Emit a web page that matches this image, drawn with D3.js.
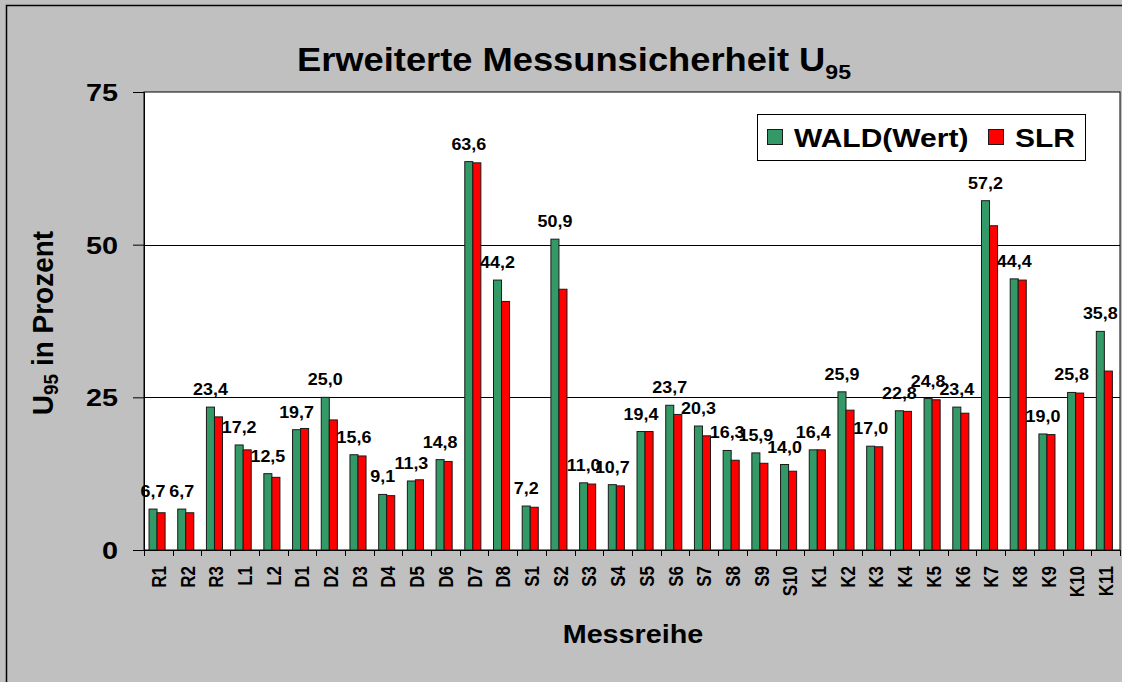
<!DOCTYPE html>
<html>
<head>
<meta charset="utf-8">
<script src="https://cdn.jsdelivr.net/npm/d3@7"></script>
<style>
  html, body { margin: 0; padding: 0; background: #c0c0c0; }
  text { font-family: "Liberation Sans", Arial, sans-serif; font-weight: bold; fill: #000; }
</style>
</head>
<body>
<script>
const W = 1122
const H = 682

// Messreihen
const categories = ['R1','R2','R3','L1','L2','D1','D2','D3','D4','D5','D6','D7','D8',
  'S1','S2','S3','S4','S5','S6','S7','S8','S9','S10',
  'K1','K2','K3','K4','K5','K6','K7','K8','K9','K10','K11']
// WALD(Wert) – beschriftete Werte
const wald = [6.7,6.7,23.4,17.2,12.5,19.7,25.0,15.6,9.1,11.3,14.8,63.6,44.2,
  7.2,50.9,11.0,10.7,19.4,23.7,20.3,16.3,15.9,14.0,
  16.4,25.9,17.0,22.8,24.8,23.4,57.2,44.4,19.0,25.8,35.8]
// SLR – aus dem Bild geschätzt
const slr = [6.1,6.1,21.8,16.4,11.9,19.9,21.3,15.4,8.9,11.5,14.5,63.4,40.7,
  7.0,42.7,10.8,10.5,19.4,22.2,18.7,14.7,14.2,12.9,
  16.4,22.9,16.9,22.7,24.6,22.4,53.1,44.2,18.9,25.7,29.3]
const yTicks = [0, 25, 50, 75]
const seriesNames = ['WALD(Wert)', 'SLR']
const colors = ['#339966', '#ff0000']

const SX = 1.15 // Schrift leicht horizontal gestreckt wie im Original

const svg = d3.select('body').append('svg')
  .attr('width', W).attr('height', H)

// äußerer Rahmen
svg.append('rect')
  .attr('x', 6.5).attr('y', 5.5)
  .attr('width', W).attr('height', H + 10)
  .attr('fill', '#c0c0c0').attr('stroke', '#000').attr('stroke-width', 1.5)

const plot = { left: 144, right: 1120, top: 92, bottom: 550 }

const x = d3.scaleBand().domain(categories).range([plot.left, plot.right])
const xs = d3.scaleBand().domain(seriesNames)
  .range([x.bandwidth() * 0.175, x.bandwidth() * 0.735])
const y = d3.scaleLinear().domain([0, 75]).range([plot.bottom, plot.top])

// Plotfläche
svg.append('rect')
  .attr('x', plot.left).attr('y', plot.top)
  .attr('width', plot.right - plot.left).attr('height', plot.bottom - plot.top)
  .attr('fill', '#fff').attr('stroke', '#000').attr('stroke-width', 1)

// Gitterlinien
svg.append('g').selectAll('line')
  .data(yTicks.filter(d => d > 0 && d < 75))
  .enter().append('line')
  .attr('x1', plot.left).attr('x2', plot.right)
  .attr('y1', d => Math.round(y(d)) + 0.5).attr('y2', d => Math.round(y(d)) + 0.5)
  .attr('stroke', '#000').attr('stroke-width', 1)

// Balken
const groups = svg.append('g').selectAll('g')
  .data(categories.map((c, i) => ({ c, vals: [wald[i], slr[i]] })))
  .enter().append('g')
  .attr('transform', d => `translate(${x(d.c)},0)`)

groups.selectAll('rect')
  .data(d => d.vals.map((v, k) => ({ v, k })))
  .enter().append('rect')
  .attr('x', d => xs(seriesNames[d.k]))
  .attr('width', xs.bandwidth())
  .attr('y', d => y(d.v))
  .attr('height', d => y(0) - y(d.v))
  .attr('fill', d => colors[d.k])
  .attr('stroke', '#1a1a1a').attr('stroke-width', 1)

// Datenbeschriftung (WALD)
groups.append('text')
  .attr('transform', d => `translate(${xs(seriesNames[0]) + xs.bandwidth() / 2},${y(d.vals[0]) - 12}) scale(1.12,1)`)
  .attr('text-anchor', 'middle')
  .style('font-size', '16px')
  .text(d => d3.format('.1f')(d.vals[0]).replace('.', ','))

// y-Achse
const yAxis = svg.append('g')
  .attr('transform', `translate(${plot.left},0)`)
  .call(d3.axisLeft(y).tickValues(yTicks).tickSize(11).tickFormat(d => d))
yAxis.select('.domain').attr('stroke', '#000')
yAxis.selectAll('.tick line').attr('stroke', '#000')
yAxis.selectAll('.tick text').remove()
yAxis.selectAll('.tick').append('text')
  .attr('transform', `translate(-26,0) scale(1.2,1)`)
  .attr('text-anchor', 'end')
  .attr('dy', '0.35em')
  .style('font-size', '24px')
  .text(d => d)

// x-Achse
const xAxis = svg.append('g')
  .attr('transform', `translate(0,${plot.bottom})`)
  .call(d3.axisBottom(x).tickSize(0))
xAxis.select('.domain').attr('stroke', '#000')
xAxis.selectAll('.tick text').remove()
xAxis.selectAll('.tick').append('text')
  .attr('transform', `translate(0,16) scale(1.22,1) rotate(-90)`)
  .attr('text-anchor', 'end')
  .attr('dy', '0.36em')
  .style('font-size', '17px')
  .text(d => d)
// Teilstriche zwischen den Kategorien
svg.append('g').selectAll('line')
  .data(categories.concat(['_end']))
  .enter().append('line')
  .attr('x1', (d, i) => Math.round(plot.left + i * x.step()) + 0.5)
  .attr('x2', (d, i) => Math.round(plot.left + i * x.step()) + 0.5)
  .attr('y1', plot.bottom).attr('y2', plot.bottom + 6)
  .attr('stroke', '#000')

// Titel
const title = svg.append('text')
  .attr('transform', `translate(574,71) scale(1.1,1)`)
  .attr('text-anchor', 'middle')
  .style('font-size', '33px')
title.append('tspan').text('Erweiterte Messunsicherheit U')
title.append('tspan').attr('dy', 8).style('font-size', '21px').text('95')

// Achsentitel
const yTitle = svg.append('text')
  .attr('transform', `translate(53,323) scale(1.05,1) rotate(-90)`)
  .attr('text-anchor', 'middle')
  .style('font-size', '28px')
yTitle.append('tspan').text('U')
yTitle.append('tspan').attr('dy', 5).style('font-size', '19px').text('95')
yTitle.append('tspan').attr('dy', -5).text(' in Prozent')

svg.append('text')
  .attr('transform', `translate(633,643) scale(${SX},1)`)
  .attr('text-anchor', 'middle')
  .style('font-size', '25px')
  .text('Messreihe')

// Legende
const legend = svg.append('g')
legend.append('rect')
  .attr('x', 757.5).attr('y', 114.5).attr('width', 328).attr('height', 46)
  .attr('fill', '#fff').attr('stroke', '#000').attr('stroke-width', 1)
const legX = [767, 988]
seriesNames.forEach((name, k) => {
  legend.append('rect')
    .attr('x', legX[k] + 0.5).attr('y', 129.5).attr('width', 15).attr('height', 15)
    .attr('fill', colors[k]).attr('stroke', '#1a1a1a')
  legend.append('text')
    .attr('transform', `translate(${legX[k] + 27},147) scale(1.2,1)`)
    .style('font-size', '25px')
    .text(name)
})
</script>
</body>
</html>
